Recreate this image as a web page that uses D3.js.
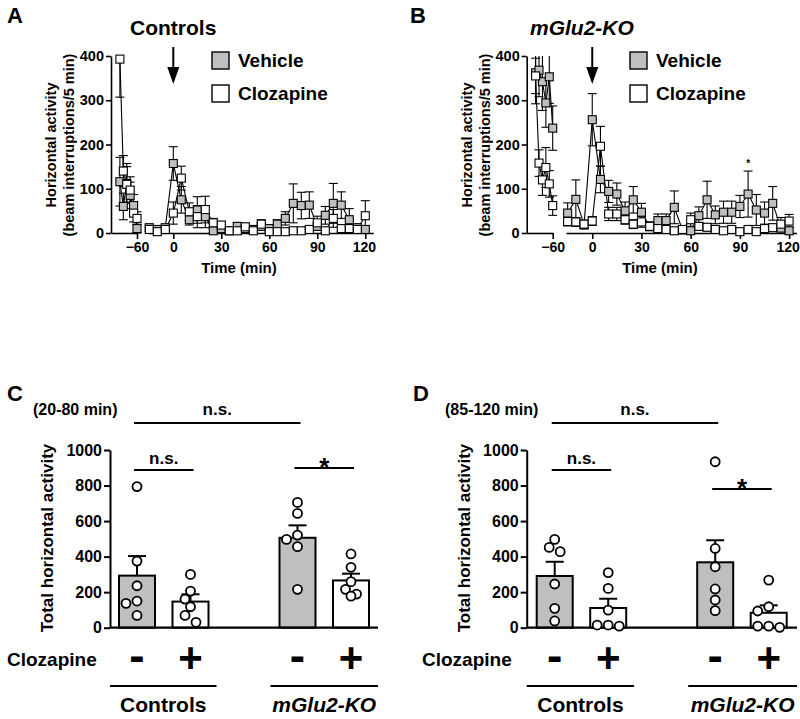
<!DOCTYPE html>
<html><head><meta charset="utf-8">
<script src="https://cdn.jsdelivr.net/npm/d3@7"></script>
<style>
body{margin:0;background:#fff;}
svg{display:block;font-family:"Liberation Sans",Arial,sans-serif;font-weight:bold;}
</style></head><body>
<svg id="c" width="800" height="719"></svg>
<script>
// ---------- DATA ----------
const timesPre = [-85,-80,-75,-70,-65,-60];
const timesPost = [-15,-10,-5,0,5,10,15,20,25,30,35,40,45,50,55,60,65,70,75,80,85,90,95,100,105,110,115,120];
const xTicksPre = [-60];
const xTicksPost = [0,30,60,90,120];
const yTicksTS = [0,100,200,300,400];
const seriesNames = ["Vehicle","Clozapine"];

// Panel A : Controls
const A_vehPre = [116,60,112,85,62,10];
const A_vehPreSem = [55,30,45,30,25,10];
const A_clzPre = [393,140,110,97,45,33];
const A_clzPreSem = [86,35,40,30,20,15];
const A_vehPost = [12,8,12,157,75,30,52,37,5,10,5,15,10,8,15,10,20,33,67,62,63,15,40,67,63,30,12,8];
const A_vehPostSem = [6,5,6,38,30,12,30,25,4,6,4,8,6,5,8,6,10,15,44,30,30,8,20,45,30,25,8,5];
const A_clzPost = [8,3,8,45,124,48,37,53,23,18,5,5,14,5,20,3,3,3,5,5,8,23,5,33,10,10,8,39];
const A_clzPostSem = [5,3,5,25,27,20,25,30,10,8,4,4,8,4,10,3,3,3,4,4,5,15,4,20,6,6,5,34];

// Panel B : mGlu2-KO
const B_vehPre = [362,368,342,294,353,237];
const B_vehPreSem = [70,60,65,55,60,50];
const B_clzPre = [355,158,120,148,111,62];
const B_clzPreSem = [40,30,35,45,30,22];
const B_vehPost = [45,76,19,256,121,94,88,50,75,47,15,28,28,58,7,5,39,75,41,47,47,60,88,52,45,67,11,5];
const B_vehPostSem = [23,44,10,59,30,25,25,20,30,20,10,15,15,37,8,8,20,42,20,25,25,25,52,35,25,38,15,8];
const B_clzPost = [26,25,20,27,196,43,43,30,20,25,15,10,8,5,8,30,15,13,8,5,8,3,8,3,10,12,20,27];
const B_clzPostSem = [10,10,8,10,45,15,15,10,10,12,8,8,6,5,6,15,8,8,6,5,6,4,6,4,8,8,15,15];

// Bar panels
const barKeys = ["ctl-","ctl+","gap","ko-","ko+"];
const groupLabels = ["Controls","mGlu2-KO"];
const clozSigns = ["-","+","-","+"];
const yTicksBar = [0,200,400,600,800,1000];

const C_means = [293,147,506,266];
const C_sem = [110,41,70,38];
const C_points = [[794,375,236,150,137,69],[300,206,161,118,69,30],[705,643,521,497,456,216],[415,340,259,216,178,189]];
const D_means = [291,111,368,84];
const D_sem = [80,52,124,42];
const D_points = [[497,452,428,246,109,38],[310,221,99,15,9,15],[934,446,343,218,156,96],[268,118,94,9,2,9]];

// ---------- DRAW ----------
const svg = d3.select("#c");
const GREY = "#bfbfbf";
const FONT = "'Liberation Sans',Arial,sans-serif";

function styleAxis(g, fs, sw){
  g.selectAll("path.domain").attr("stroke","#000").attr("stroke-width",sw);
  g.selectAll(".tick line").attr("stroke","#000").attr("stroke-width",sw);
  g.selectAll(".tick text").attr("font-size",fs).attr("font-weight","bold").attr("font-family",FONT).attr("fill","#000");
}

function drawTS(cfg){
  const g = svg.append("g");
  const y = d3.scaleLinear().domain([0,400]).range([233,56]);
  const xPre = d3.scaleLinear().domain([-98,-60]).range([cfg.axisX, cfg.axisX+26]);
  const xPost = d3.scaleLinear().domain(cfg.postDomain).range(cfg.postRange);

  const ya = g.append("g").attr("transform",`translate(${cfg.axisX},0)`)
    .call(d3.axisLeft(y).tickValues(yTicksTS).tickFormat(d3.format("d")).tickSize(5).tickSizeOuter(0).tickPadding(2));
  styleAxis(ya,14.5,1.6);
  const xa1 = g.append("g").attr("transform","translate(0,233)")
    .call(d3.axisBottom(xPre).tickValues(xTicksPre).tickSize(6).tickSizeOuter(0).tickPadding(3));
  styleAxis(xa1,14,1.6);
  const xa2 = g.append("g").attr("transform","translate(0,233)")
    .call(d3.axisBottom(xPost).tickValues(xTicksPost).tickSize(6).tickSizeOuter(0).tickPadding(3));
  styleAxis(xa2,14,1.6);
  // keep the last tick label inside the page
  xa2.selectAll(".tick text").filter(d=>d===120).attr("dx",-1.5);

  const clampV = v => Math.max(0, Math.min(400, v));
  const series = [
    {pre:cfg.vehPre, preS:cfg.vehPreSem, post:cfg.vehPost, postS:cfg.vehPostSem, fill:GREY},
    {pre:cfg.clzPre, preS:cfg.clzPreSem, post:cfg.clzPost, postS:cfg.clzPostSem, fill:"#fff"}
  ];
  const line = d3.line().x(d=>d.x).y(d=>d.y);
  series.forEach(s=>{
    s.ptsPre = timesPre.map((t,i)=>({x:xPre(t), v:s.pre[i], e:s.preS[i], y:y(s.pre[i])}));
    s.ptsPost = timesPost.map((t,i)=>({x:xPost(t), v:s.post[i], e:s.postS[i], y:y(s.post[i])}));
  });
  series.forEach(s=>{
    [s.ptsPre, s.ptsPost].forEach(pts=>{
      g.append("path").datum(pts).attr("d",line).attr("fill","none").attr("stroke","#000").attr("stroke-width",1.1);
      pts.forEach(p=>{
        const hi = p.v+p.e, lo = p.v-p.e;
        g.append("line").attr("x1",p.x).attr("x2",p.x).attr("y1",y(clampV(lo))).attr("y2",y(clampV(hi)))
          .attr("stroke","#000").attr("stroke-width",1.1);
        if(hi<=400) g.append("line").attr("x1",p.x-4.5).attr("x2",p.x+4.5).attr("y1",y(hi)).attr("y2",y(hi)).attr("stroke","#000").attr("stroke-width",1.1);
        if(lo>=0) g.append("line").attr("x1",p.x-4.5).attr("x2",p.x+4.5).attr("y1",y(lo)).attr("y2",y(lo)).attr("stroke","#000").attr("stroke-width",1.1);
      });
    });
  });
  series.forEach(s=>{
    s.ptsPre.concat(s.ptsPost).forEach(p=>{
      g.append("rect").attr("x",p.x-4).attr("y",p.y-4).attr("width",8).attr("height",8)
        .attr("fill",s.fill).attr("stroke","#000").attr("stroke-width",1.1);
    });
  });

  const ax = xPost(0);
  g.append("line").attr("x1",ax).attr("x2",ax).attr("y1",47).attr("y2",70).attr("stroke","#000").attr("stroke-width",2);
  g.append("path").attr("d",`M${ax-6},67L${ax+6},67L${ax},84Z`).attr("fill","#000");

  g.append("text").attr("x",cfg.titleX).attr("y",35).attr("font-size",21)
    .attr("font-style",cfg.italic?"italic":"normal").text(cfg.title);
  const lx = cfg.legendX;
  [[GREY,52,seriesNames[0]],["#fff",85,seriesNames[1]]].forEach(([f,yy,t])=>{
    g.append("rect").attr("x",lx).attr("y",yy).attr("width",17).attr("height",17).attr("fill",f).attr("stroke","#000").attr("stroke-width",1.4);
    g.append("text").attr("x",lx+26).attr("y",yy+15).attr("font-size",19).text(t);
  });
  const yl = g.append("text").attr("transform",`translate(${cfg.axisX-55},145) rotate(-90)`).attr("text-anchor","middle").attr("font-size",14.5);
  yl.append("tspan").attr("x",0).attr("dy",0).text("Horizontal activity");
  yl.append("tspan").attr("x",0).attr("dy",18).text("(beam interruptions/5 min)");
  g.append("text").attr("x",cfg.timeX).attr("y",273).attr("text-anchor","middle").attr("font-size",15).text("Time (min)");
  g.append("text").attr("x",cfg.letterX).attr("y",23).attr("font-size",22).text(cfg.letter);
  if(cfg.star) g.append("text").attr("x",xPost(cfg.star)).attr("y",y(cfg.starV)).attr("text-anchor","middle").attr("font-size",10).text("*");
}

function drawBars(cfg){
  const g = svg.append("g");
  const y = d3.scaleLinear().domain([0,1000]).range([627.7,450]);
  const x = d3.scaleBand().domain(barKeys).range(cfg.barRange).paddingInner(0.327).paddingOuter(0);
  const keys = barKeys.filter(k=>k!=="gap");
  const bw = x.bandwidth();

  keys.forEach((k,i)=>{
    const fill = i%2===0 ? GREY : "#fff";
    const cx = x(k)+bw/2;
    const top = y(cfg.means[i]+cfg.sem[i]);
    g.append("line").attr("x1",cx).attr("x2",cx).attr("y1",y(cfg.means[i])).attr("y2",top).attr("stroke","#000").attr("stroke-width",2);
    g.append("line").attr("x1",cx-9).attr("x2",cx+9).attr("y1",top).attr("y2",top).attr("stroke","#000").attr("stroke-width",2);
    g.append("rect").attr("x",x(k)).attr("y",y(cfg.means[i])).attr("width",bw).attr("height",y(0)-y(cfg.means[i]))
      .attr("fill",fill).attr("stroke","#000").attr("stroke-width",2);
  });
  const ya = g.append("g").attr("transform",`translate(${cfg.axisX},0)`)
    .call(d3.axisLeft(y).tickValues(yTicksBar).tickFormat(d3.format("d")).tickSize(6).tickSizeOuter(0).tickPadding(2));
  styleAxis(ya,16,2);
  g.append("line").attr("x1",cfg.axisX).attr("x2",cfg.axisEnd).attr("y1",y(0)).attr("y2",y(0)).attr("stroke","#000").attr("stroke-width",2.2);

  const r = 4.5;
  keys.forEach((k,i)=>{
    const cx = x(k)+bw/2;
    const placed = [];
    const vals = cfg.points[i].slice().sort((a,b)=>b-a);
    vals.forEach(v=>{
      const py = y(v);
      const offs = [0,-5.5,5.5,-11,11];
      let ox = 0;
      for(const o of offs){
        if(placed.every(p=>Math.hypot(p[0]-o,p[1]-py)>=9)){ ox=o; break; }
      }
      placed.push([ox,py]);
      g.append("circle").attr("cx",cx+ox).attr("cy",py).attr("r",r).attr("fill","#fff").attr("stroke","#000").attr("stroke-width",1.8);
    });
  });

  const c = k => x(k)+bw/2;
  const sigLine = (k1,k2,yy)=>g.append("line").attr("x1",c(k1)-3).attr("x2",c(k2)+3).attr("y1",yy).attr("y2",yy).attr("stroke","#000").attr("stroke-width",1.8);
  sigLine("ctl-","ko-",423);
  g.append("text").attr("x",(c("ctl-")+c("ko-"))/2).attr("y",415).attr("text-anchor","middle").attr("font-size",17).text("n.s.");
  sigLine("ctl-","ctl+",470);
  g.append("text").attr("x",(c("ctl-")+c("ctl+"))/2).attr("y",464).attr("text-anchor","middle").attr("font-size",17).text("n.s.");
  sigLine("ko-","ko+",cfg.starLineY);
  g.append("text").attr("x",(c("ko-")+c("ko+"))/2).attr("y",cfg.starLineY+8).attr("text-anchor","middle").attr("font-size",26).text("*");
  g.append("text").attr("x",cfg.rangeX).attr("y",415).attr("font-size",16).text(cfg.rangeText);

  g.append("text").attr("transform",`translate(${cfg.axisX-57},538) rotate(-90)`).attr("text-anchor","middle").attr("font-size",17).text("Total horizontal activity");
  g.append("text").attr("x",cfg.clozX).attr("y",666).attr("font-size",19).text("Clozapine");
  keys.forEach((k,i)=>{
    g.append("text").attr("x",c(k)).attr("y",clozSigns[i]==="+"?672:671).attr("text-anchor","middle").attr("font-size",clozSigns[i]==="+"?42:46).text(clozSigns[i]);
  });
  g.append("line").attr("x1",cfg.axisX).attr("x2",x("ctl+")+bw+8).attr("y1",686).attr("y2",686).attr("stroke","#000").attr("stroke-width",2);
  g.append("line").attr("x1",x("ko-")-9).attr("x2",cfg.axisEnd).attr("y1",686).attr("y2",686).attr("stroke","#000").attr("stroke-width",2);
  g.append("text").attr("x",(cfg.axisX+x("ctl+")+bw+8)/2).attr("y",712).attr("text-anchor","middle").attr("font-size",21).text(groupLabels[0]);
  g.append("text").attr("x",(x("ko-")-9+cfg.axisEnd)/2).attr("y",712).attr("text-anchor","middle").attr("font-size",21).attr("font-style","italic").text(groupLabels[1]);
  g.append("text").attr("x",cfg.letterX).attr("y",401).attr("font-size",22).text(cfg.letter);
}

drawTS({axisX:111, postDomain:[-16,125], postRange:[147.7,373.3],
  vehPre:A_vehPre, vehPreSem:A_vehPreSem, clzPre:A_clzPre, clzPreSem:A_clzPreSem,
  vehPost:A_vehPost, vehPostSem:A_vehPostSem, clzPost:A_clzPost, clzPostSem:A_clzPostSem,
  title:"Controls", italic:false, titleX:130, legendX:212, timeX:239, letter:"A", letterX:7});
drawTS({axisX:526.7, postDomain:[-16,124.5], postRange:[566,796.5],
  vehPre:B_vehPre, vehPreSem:B_vehPreSem, clzPre:B_clzPre, clzPreSem:B_clzPreSem,
  vehPost:B_vehPost, vehPostSem:B_vehPostSem, clzPost:B_clzPost, clzPostSem:B_clzPostSem,
  title:"mGlu2-KO", italic:true, titleX:530, legendX:630, timeX:660, letter:"B", letterX:410, star:95, starV:150});

drawBars({axisX:110, axisEnd:378, barRange:[119,369], means:C_means, sem:C_sem, points:C_points,
  starLineY:468, rangeText:"(20-80 min)", rangeX:33, clozX:7, letter:"C", letterX:7});
drawBars({axisX:526.7, axisEnd:797, barRange:[536.7,786.7], means:D_means, sem:D_sem, points:D_points,
  starLineY:489, rangeText:"(85-120 min)", rangeX:445, clozX:422, letter:"D", letterX:413});
</script>
</body></html>
